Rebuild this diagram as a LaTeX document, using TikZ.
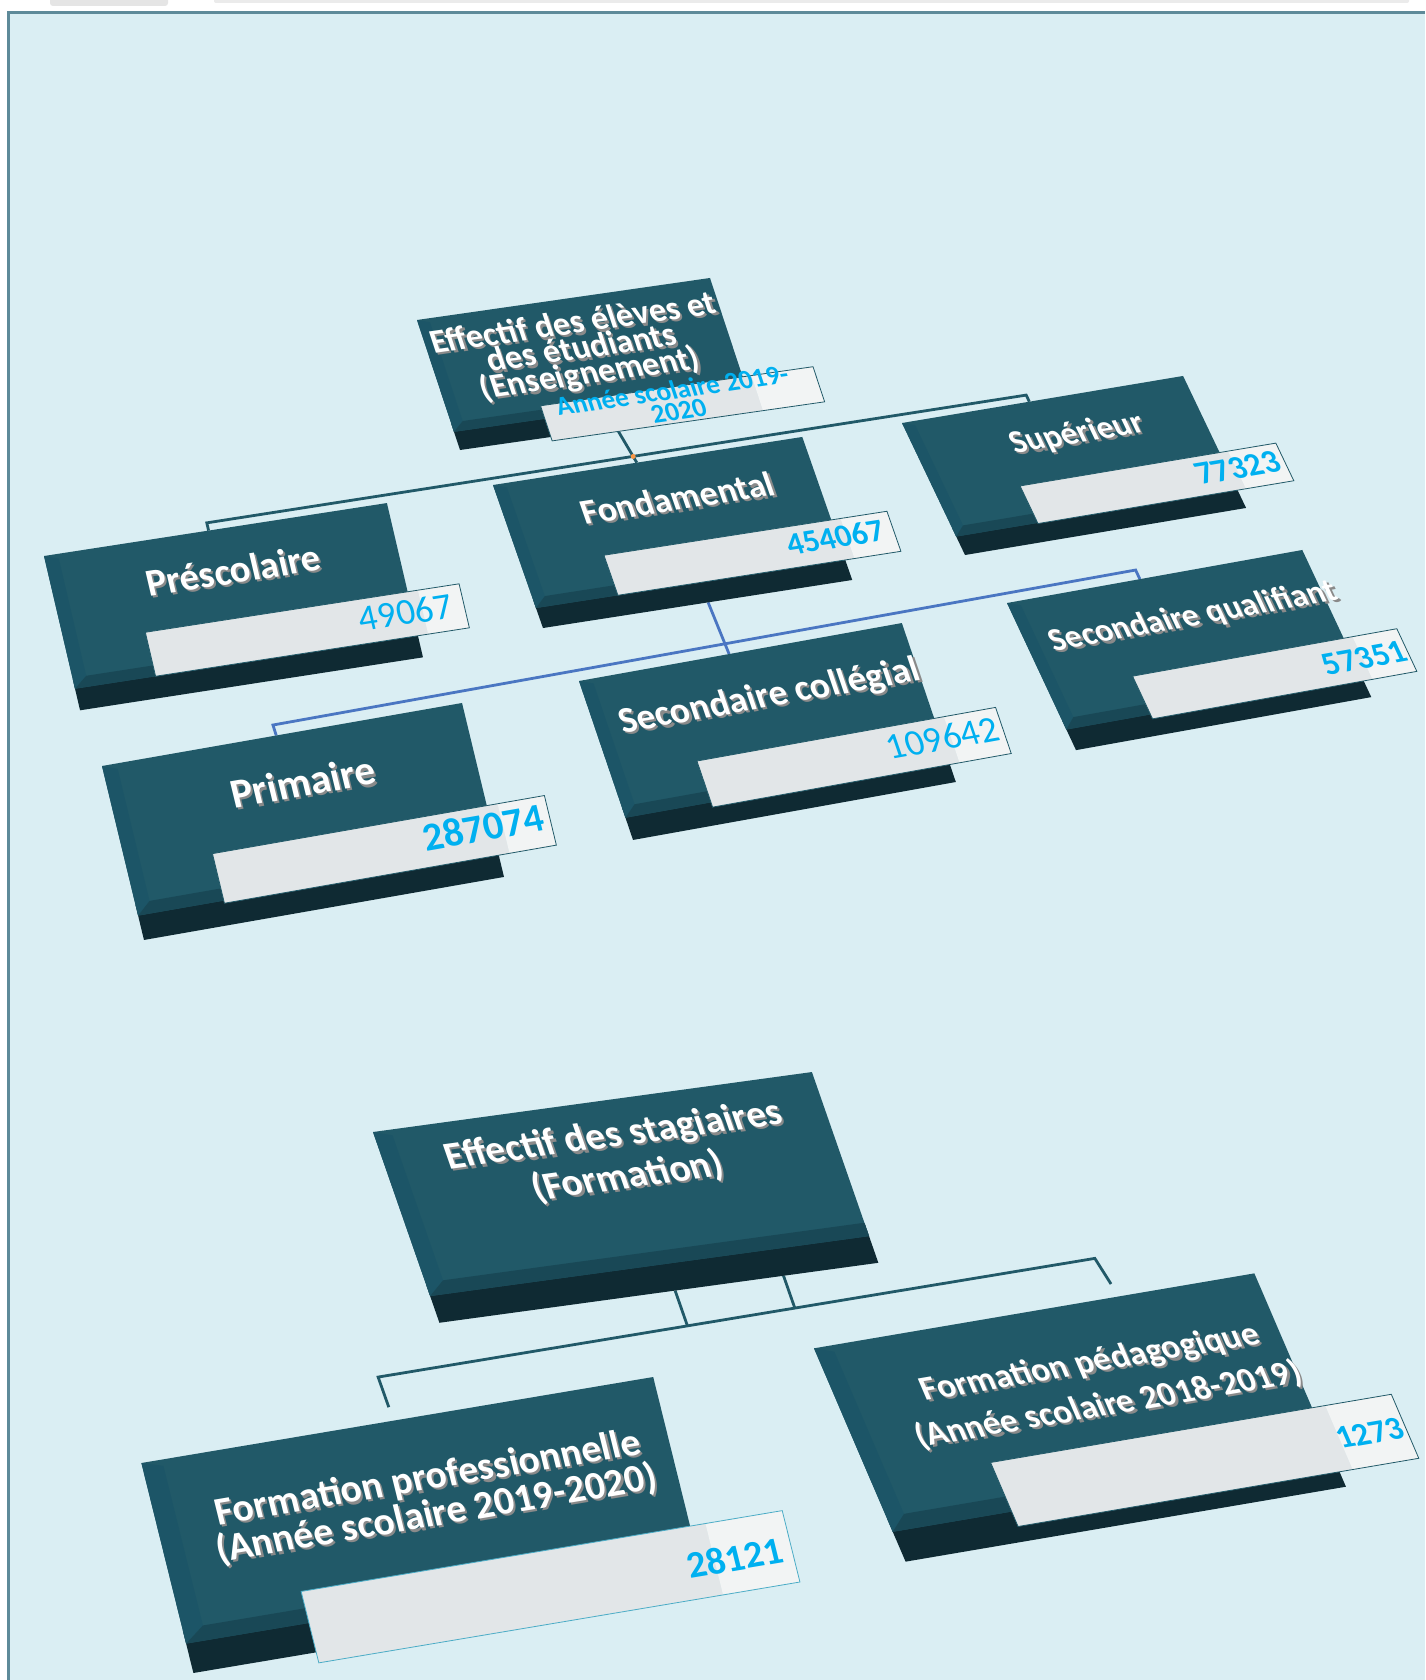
\documentclass[tikz,border=0pt]{standalone}
\usepackage{fontspec}
\setmainfont{Carlito}
\usetikzlibrary{backgrounds}

\definecolor{bgblue}{HTML}{DAEEF3}
\definecolor{framegrey}{HTML}{5E8A99}
\definecolor{tealface}{HTML}{215968}
\definecolor{tealbevel}{HTML}{1C5567}
\definecolor{tealbot}{HTML}{194856}
\definecolor{tealslab}{HTML}{0F2A33}
\definecolor{labgrey}{HTML}{E2E6E8}
\definecolor{labwhite}{HTML}{F2F4F4}
\definecolor{labcyan}{HTML}{4BACC6}
\definecolor{numblue}{HTML}{00B0F0}
\definecolor{busblue}{HTML}{4A76C2}
\definecolor{dotorange}{HTML}{F79646}
\definecolor{shadowgrey}{HTML}{8A8A8A}

\tikzset{
  % one frame per tile: corner, tilt, lean, width, depth
  pre frame/.style={shift={(44,556)},rotate=8.78,xslant=-0.0765,x=347pt,y=-158pt},
  fon frame/.style={shift={(493,485)},rotate=8.83,xslant=-0.184,x=313pt,y=-149pt},
  sup frame/.style={shift={(902,423)},rotate=9.50,xslant=-0.287,x=285pt,y=-140.6pt},
  secq frame/.style={shift={(1007,603)},rotate=10.18,xslant=-0.267,x=300pt,y=-157pt},
  prim frame/.style={shift={(102,766)},rotate=9.93,xslant=-0.0636,x=365.5pt,y=-178.6pt},
  secc frame/.style={shift={(579,681)},rotate=10.18,xslant=-0.151,x=328pt,y=-166pt},
  eff frame/.style={shift={(417,320)},rotate=8.16,xslant=-0.179,x=296pt,y=-134.8pt},
  stg frame/.style={shift={(373,1132)},rotate=7.78,xslant=-0.202,x=443pt,y=-198pt},
  fpro frame/.style={shift={(141.4,1463)},rotate=9.54,xslant=-0.0764,x=519pt,y=-215.7pt},
  fped frame/.style={shift={(814,1348.3)},rotate=9.66,xslant=-0.2414,x=446.7pt,y=-225.7pt},
  ttl/.style={transform shape,align=center,inner sep=0pt},
  num/.style={transform shape,anchor=east,inner sep=0pt,text=numblue},
  labline/.style={line width=0.8pt},
  tealline/.style={draw=tealface,line width=2.8pt},
  blueline/.style={draw=busblue,line width=2.8pt}
}

\newcommand{\tilebox}[1]{%
  \begin{scope}[#1 frame]
    \fill[tealslab] (0,0.8) rectangle (1,1);
    \fill[tealface] (0,0) rectangle (1,0.86);
    \fill[tealbevel] (0,0) -- (0.04,0.03) -- (0.04,0.79) -- (0,0.86) -- cycle;
    \fill[tealbot] (0,0.86) -- (0.04,0.79) -- (1,0.79) -- (1,0.86) -- cycle;
  \end{scope}}

\newcommand{\tilelabel}[6]{%
  \begin{scope}[#1 frame]
    \fill[labgrey] (#2,#3) rectangle (1.03,#5);
    \fill[labwhite] (1.03,#3) rectangle (#4,#5);
    \draw[labline,draw=#6] (#2,#3) rectangle (#4,#5);
  \end{scope}}

\newcommand{\tiletitle}[4]{%
  \begin{scope}[#1 frame]
    \node[ttl,text=shadowgrey,xshift=1.5pt,yshift=-2.5pt,font={\bfseries\fontsize#3\selectfont}] (#1-shade) at (#2) {#4};
    \node[ttl,text=white,font={\bfseries\fontsize#3\selectfont}] (#1-title) at (#2) {#4};
  \end{scope}}

\newcommand{\tilenum}[5]{%
  \path[#1 frame] node[num,font={#4\fontsize{#3}{#3}\selectfont}] (#1-num) at (#2) {#5};}

\begin{document}
\begin{tikzpicture}[x=1pt,y=-1pt]
\useasboundingbox (0,0) rectangle (1425,1680);

% Enseignement
\tilebox{eff}
\tilelabel{eff}{0.31}{0.76}{1.24}{1.03}{tealface}
\begin{scope}[eff frame]
  \clip (0,0) rectangle (1,1);
  \node[ttl,text=shadowgrey,xshift=1.5pt,yshift=-2.5pt,font={\bfseries\fontsize{34}{26}\selectfont}] (eff-shade) at (0.505,0.392) {Effectif des élèves et\\des étudiants\\(Enseignement)};
  \node[ttl,text=white,font={\bfseries\fontsize{34}{26}\selectfont}] (eff-title) at (0.505,0.392) {Effectif des élèves et\\des étudiants\\(Enseignement)};
\end{scope}
\path[eff frame] node[ttl,text=numblue,font={\bfseries\fontsize{27}{21}\selectfont}] (eff-year) at (0.755,0.86) {Année scolaire 2019-\\2020};

\tilebox{sup}
\tilelabel{sup}{0.29}{0.58}{1.20}{0.865}{tealface}
\tiletitle{sup}{0.559,0.283}{{33}{35}}{Supérieur}
\tilenum{sup}{1.183,0.709}{33}{\bfseries}{77323}

\tilebox{fon}
\tilelabel{fon}{0.265}{0.58}{1.18}{0.86}{tealface}
\tiletitle{fon}{0.551,0.276}{{35.5}{37}}{Fondamental}
\tilenum{fon}{1.149,0.70}{32}{\bfseries}{454067}

\tilebox{pre}
\tilelabel{pre}{0.235}{0.575}{1.15}{0.86}{tealface}
\tiletitle{pre}{0.523,0.271}{{38.5}{40}}{Préscolaire}
\tilenum{pre}{1.116,0.702}{37}{\mdseries}{49067}

\tilebox{secq}
\tilelabel{secq}{0.285}{0.60}{1.18}{0.89}{tealface}
\tiletitle{secq}{0.561,0.297}{{33}{35}}{Secondaire qualifiant}
\tilenum{secq}{1.175,0.746}{33}{\bfseries}{57351}

\tilebox{secc}
\tilelabel{secc}{0.265}{0.60}{1.19}{0.89}{tealface}
\tiletitle{secc}{0.541,0.298}{{37}{39}}{Secondaire collégial}
\tilenum{secc}{1.176,0.725}{37}{\mdseries}{109642}

\tilebox{prim}
\tilelabel{prim}{0.238}{0.59}{1.16}{0.875}{tealface}
\tiletitle{prim}{0.525,0.282}{{41.5}{43}}{Primaire}
\tilenum{prim}{1.143,0.707}{40}{\bfseries}{287074}

% Formation
\tilebox{stg}
\tiletitle{stg}{0.520,0.293}{{39}{43}}{Effectif des stagiaires\\(Formation)}

\tilebox{fped}
\tilelabel{fped}{0.27}{0.63}{1.18}{0.93}{tealface}
\tiletitle{fped}{0.571,0.37}{{34.5}{45}}{Formation pédagogique\\(Année scolaire 2018-2019)}
\tilenum{fped}{1.175,0.784}{33}{\bfseries}{1273}

\tilebox{fpro}
\tilelabel{fpro}{0.24}{0.71}{1.18}{1.05}{labcyan}
\tiletitle{fpro}{0.530,0.378}{{39.5}{37}}{Formation professionnelle\\(Année scolaire 2019-2020)}
\tilenum{fpro}{1.163,0.89}{38}{\bfseries}{28121}

% attach points
\path[eff frame] (0.533,1) coordinate (eff-out);
\path[pre frame] (0.48,0) coordinate (pre-in) (0.48,-0.05) coordinate (pre-up);
\path[sup frame] (0.453,0) coordinate (sup-in) (0.453,-0.05) coordinate (sup-up);
\path[fon frame] (0.465,0) coordinate (fon-in) (0.534,1) coordinate (fon-out);
\path[prim frame] (0.484,0) coordinate (prim-in) (0.482,-0.061) coordinate (prim-up);
\path[secq frame] (0.45,0) coordinate (secq-in) (0.45,-0.062) coordinate (secq-up);
\path[secc frame] (0.465,0) coordinate (secc-in);
\path[stg frame] (0.537,1) coordinate (stg-outa) (0.537,1.3) coordinate (stg-downa)
  (0.784,1) coordinate (stg-outb) (0.784,1.3) coordinate (stg-downb);
\path[fpro frame] (0.49,-0.065) coordinate (fpro-in) (0.484,-0.211) coordinate (fpro-up);
\path[fped frame] (0.687,-0.06) coordinate (fped-in) (0.676,-0.184) coordinate (fped-up);

\begin{pgfonlayer}{background}
  \fill[white] (0,0) rectangle (1425,1680);
  \fill[black!10,rounded corners=3pt] (50,-5) rectangle (168,6);
  \fill[black!8,rounded corners=2pt] (214,-5) rectangle (1409,3);
  \fill[bgblue] (8,12) rectangle (1425,1680);
  \draw[framegrey,line width=3pt] (8.5,1680) -- (8.5,12.5) -- (1425,12.5);
  % connectors
  \draw[tealline] (eff-out) -- (fon-in);
  \draw[tealline] (pre-in) -- (pre-up) -- (sup-up) -- (sup-in);
  \fill[dotorange] (intersection of eff-out--fon-in and pre-up--sup-up) circle (2.5);
  \draw[blueline] (fon-out) -- (secc-in);
  \draw[blueline] (prim-in) -- (prim-up) -- (secq-up) -- (secq-in);
  \draw[tealline] (stg-outa) -- (intersection of stg-outa--stg-downa and fpro-up--fped-up);
  \draw[tealline] (stg-outb) -- (intersection of stg-outb--stg-downb and fpro-up--fped-up);
  \draw[tealline] (fpro-in) -- (fpro-up) -- (fped-up) -- (fped-in);
\end{pgfonlayer}
\end{tikzpicture}
\end{document}
